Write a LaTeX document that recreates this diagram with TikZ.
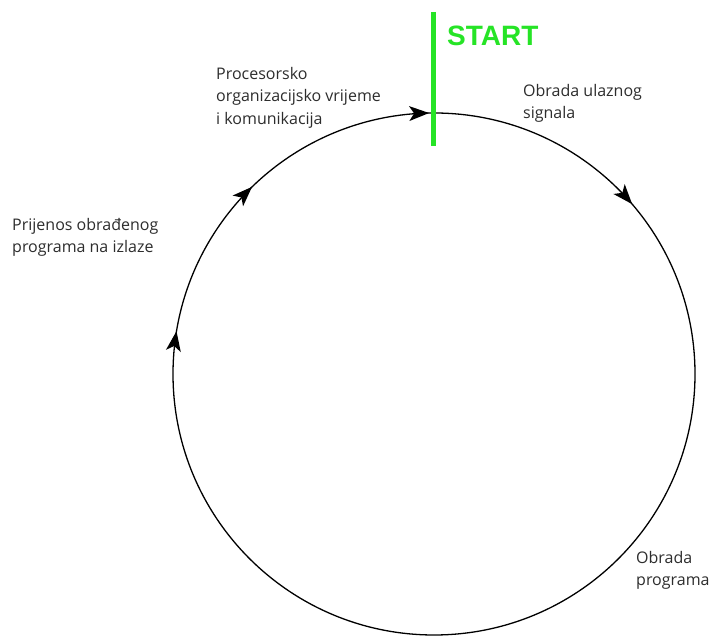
\documentclass[tikz,border=0pt]{standalone}
\usepackage{fontspec}
\setmainfont{Open Sans}
\newfontfamily\startfont{Liberation Sans}
\usetikzlibrary{decorations.markings}
\definecolor{startgreen}{RGB}{38,228,38}
\definecolor{txtgray}{RGB}{45,45,45}
\newcommand{\cychead}{\fill[black] (2pt,0) -- (-18pt,7.5pt) -- (-13pt,0) -- (-18pt,-7.5pt) -- cycle;}
\tikzset{
  lbl/.style={anchor=north west,inner sep=0pt,align=left,text=txtgray,
    font=\fontsize{16}{22.5}\selectfont},
  cyc/.style={line width=1.3pt,black,postaction={decorate},
    decoration={markings,
      mark=at position 0.136 with {\cychead},
      mark=at position 0.775 with {\cychead},
      mark=at position 0.876 with {\cychead},
      mark=at position 0.9958 with {\cychead}}}
}
\begin{document}
\begin{tikzpicture}[x=1pt,y=1pt]
\useasboundingbox[fill=white] (0,0) rectangle (712,636);
\coordinate (c) at (434,262);
\draw[cyc] (c) ++(90:261) arc[start angle=90,end angle=-270,radius=261];
\coordinate (gtop) at (433,624);
\coordinate (gbot) at (433,490);
\draw[startgreen,line width=5pt] (gtop) -- (gbot);
\node[anchor=north west,inner sep=0pt,text=startgreen,font=\startfont\bfseries\fontsize{28}{30}\selectfont] (start) at (447,610) {START};
\node[lbl] (proc) at (216,569) {Procesorsko\\organizacijsko vrijeme\\i komunikacija};
\node[lbl] (ulaz) at (523,552) {Obrada ulaznog\\signala};
\node[lbl] (prij) at (12,418) {Prijenos obrađenog\\programa na izlaze};
\node[lbl] (prog) at (636,85) {Obrada\\programa};
\end{tikzpicture}
\end{document}
